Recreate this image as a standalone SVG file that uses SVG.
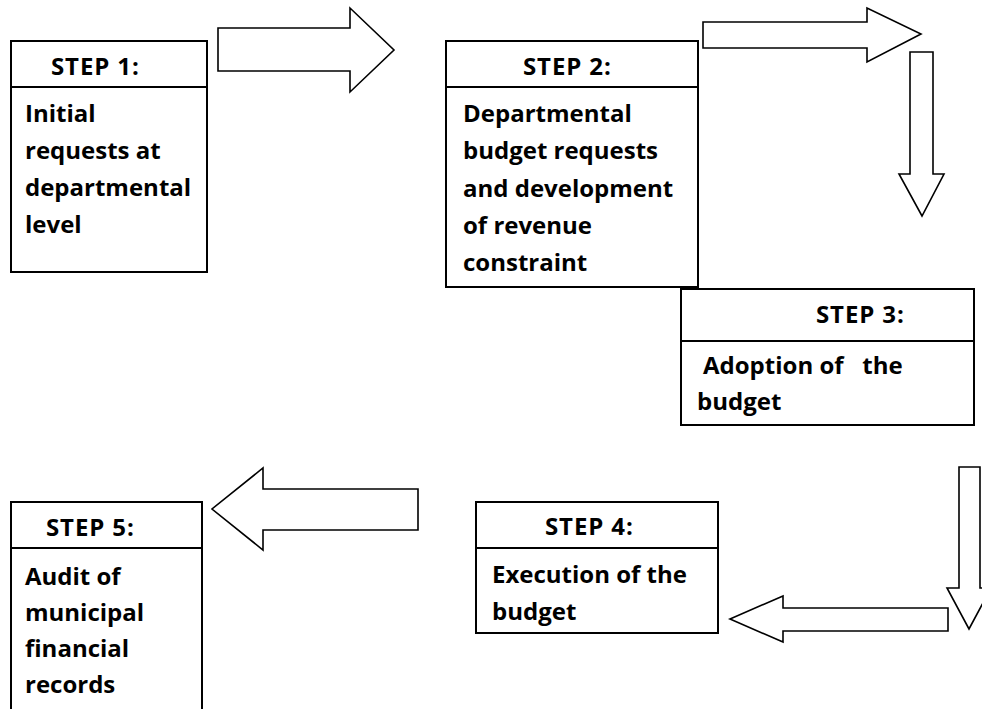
<svg xmlns="http://www.w3.org/2000/svg" width="982" height="709" viewBox="0 0 982 709">
  <style>
    .box { fill: #ffffff; stroke: #000000; stroke-width: 2; }
    .rule { stroke: #000000; stroke-width: 2; fill: none; }
    .arrow { fill: #ffffff; stroke: #000000; stroke-width: 1.6; stroke-linejoin: miter; }
    text { font-family: "Open Sans", "Liberation Sans", Arial, sans-serif; font-weight: 700; font-size: 24px; fill: #000000; white-space: pre; }
    text.head { letter-spacing: 0.9px; }
  </style>
  <rect x="0" y="0" width="982" height="709" fill="#ffffff"/>

  <!-- block arrows linking the steps -->
  <g id="connectors">
    <polygon class="arrow" points="218,28 350,28 350,8 394,50 350,92 350,71 218,71"/>
    <polygon class="arrow" points="703,22 867,22 867,8 921,34 867,62 867,48 703,48"/>
    <polygon class="arrow" points="910,52 933,52 933,174 944,174 922,216 899,174 910,174"/>
    <polygon class="arrow" points="959,467 980,467 980,588 991,588 969,629 947,588 959,588"/>
    <polygon class="arrow" points="948,608 948,631 783,631 783,642 730,619 783,596 783,608"/>
    <polygon class="arrow" points="418,489 418,530 263,530 263,550 212,509 263,468 263,489"/>
  </g>

  <g id="step1">
    <rect class="box" x="11" y="41" width="196" height="231"/>
    <line class="rule" x1="11" y1="87" x2="207" y2="87"/>
    <text class="head" x="51" y="75">STEP 1:</text>
    <text x="25" y="122">Initial</text>
    <text x="25" y="159">requests at</text>
    <text x="25" y="196">departmental</text>
    <text x="25" y="233">level</text>
  </g>

  <g id="step2">
    <rect class="box" x="446" y="41" width="252" height="246"/>
    <line class="rule" x1="446" y1="87" x2="698" y2="87"/>
    <text class="head" x="523" y="75">STEP 2:</text>
    <text x="463" y="122">Departmental</text>
    <text x="463" y="159">budget requests</text>
    <text x="463" y="197">and development</text>
    <text x="463" y="234">of revenue</text>
    <text x="463" y="271">constraint</text>
  </g>

  <g id="step3">
    <rect class="box" x="681" y="289" width="293" height="136"/>
    <line class="rule" x1="681" y1="341" x2="974" y2="341"/>
    <text class="head" x="816" y="323">STEP 3:</text>
    <text x="703" y="374">Adoption of   the</text>
    <text x="697" y="410">budget</text>
  </g>

  <g id="step4">
    <rect class="box" x="476" y="502" width="242" height="131"/>
    <line class="rule" x1="476" y1="548" x2="718" y2="548"/>
    <text class="head" x="545" y="535">STEP 4:</text>
    <text x="492" y="583">Execution of the</text>
    <text x="492" y="620">budget</text>
  </g>

  <g id="step5">
    <rect class="box" x="11" y="502" width="191" height="220"/>
    <line class="rule" x1="11" y1="548" x2="202" y2="548"/>
    <text class="head" x="46" y="536">STEP 5:</text>
    <text x="25" y="585">Audit of</text>
    <text x="25" y="621">municipal</text>
    <text x="25" y="657">financial</text>
    <text x="25" y="693">records</text>
  </g>
</svg>
